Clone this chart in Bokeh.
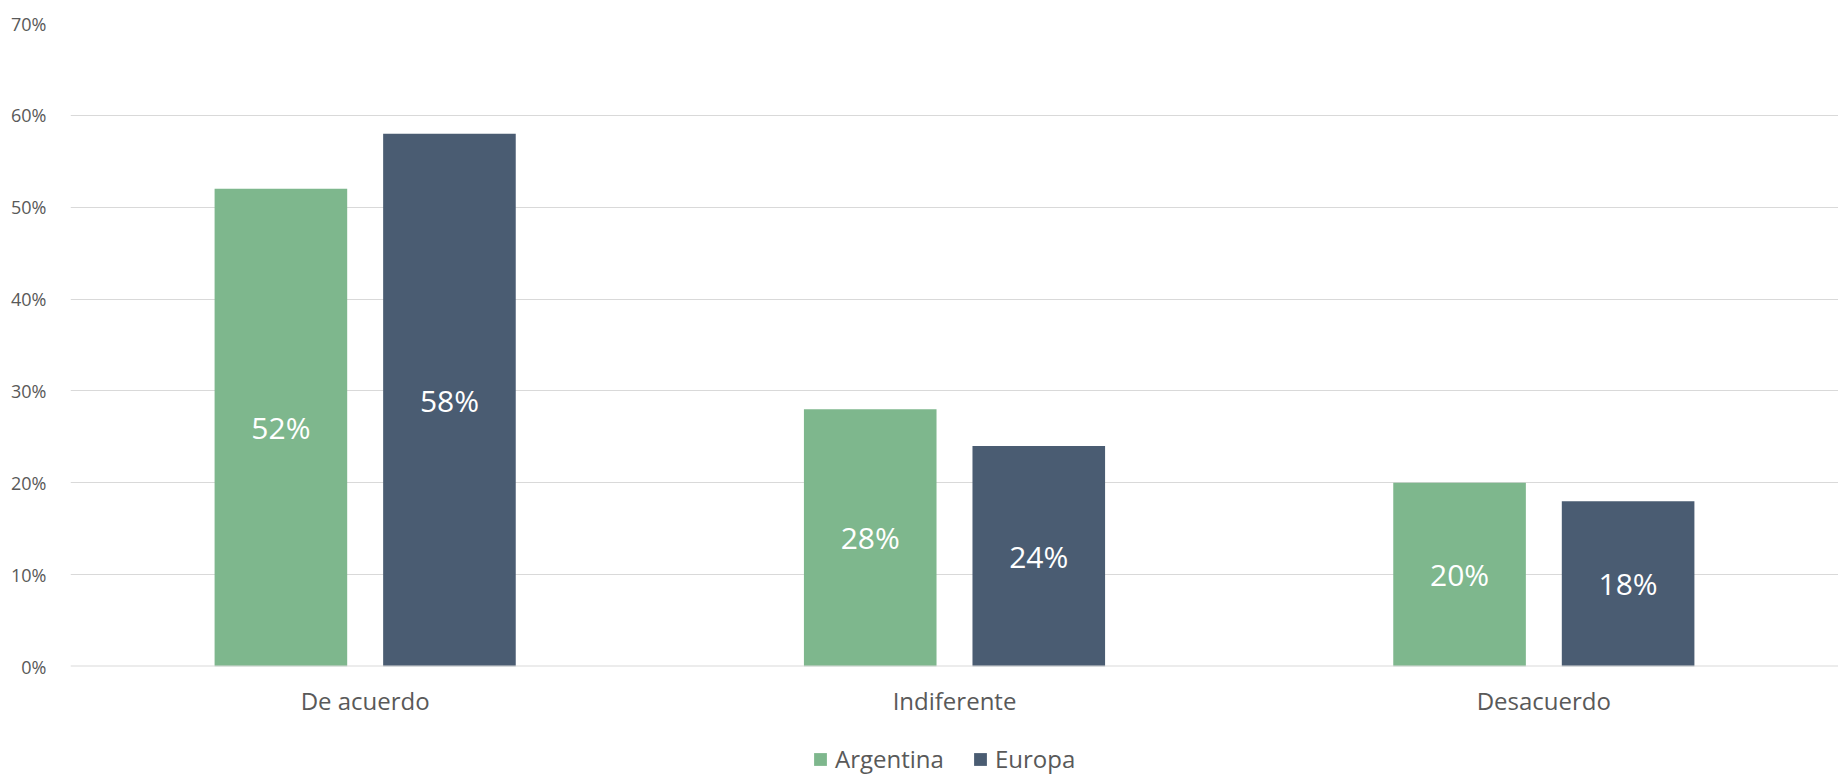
from bokeh.plotting import figure
from bokeh.layouts import column
from bokeh.models import (FactorRange, ColumnDataSource, Legend, LegendItem, Span,
                          SingleIntervalTicker, PrintfTickFormatter, Range1d)
from bokeh.transform import dodge
from bokeh.core.properties import value
from bokeh.embed import file_html
from bokeh.resources import INLINE

# ---- data ----
categories = ["De acuerdo", "Indiferente", "Desacuerdo"]
series_names = ["Argentina", "Europa"]
argentina = [52, 28, 20]
europa = [58, 24, 18]
colors = ["#7EB78D", "#4A5C72"]

FONT = "Open Sans"
GREY = "#595959"

src = ColumnDataSource(dict(
    cat=categories,
    arg=argentina,
    eur=europa,
    arg_mid=[v / 2 for v in argentina],
    eur_mid=[v / 2 for v in europa],
    arg_lbl=[f"{v}%" for v in argentina],
    eur_lbl=[f"{v}%" for v in europa],
))

p = figure(x_range=FactorRange(*categories), y_range=(0, 70),
           width=1838, height=719, output_backend="svg", toolbar_location=None,
           min_border_left=70, min_border_right=0, min_border_top=23,
           min_border_bottom=50)
p.x_range.range_padding = 0
p.outline_line_color = None
p.background_fill_color = "white"

off = 0.143
bw = 0.225
p.vbar(x=dodge("cat", -off, range=p.x_range), top="arg", width=bw,
       source=src, fill_color=colors[0], line_color=None)
p.vbar(x=dodge("cat", off, range=p.x_range), top="eur", width=bw,
       source=src, fill_color=colors[1], line_color=None)

p.text(x=dodge("cat", -off, range=p.x_range), y="arg_mid", text="arg_lbl", source=src,
       text_align="center", text_baseline="middle", text_color="white",
       text_font=value(FONT), text_font_size="30px")
p.text(x=dodge("cat", off, range=p.x_range), y="eur_mid", text="eur_lbl", source=src,
       text_align="center", text_baseline="middle", text_color="white",
       text_font=value(FONT), text_font_size="30px")

# baseline
p.add_layout(Span(location=0, dimension="width", line_color="#D9D9D9", line_width=2))

# grid
p.xgrid.grid_line_color = None
p.ygrid.grid_line_color = "#D9D9D9"
p.ygrid.grid_line_width = 1

# y axis
p.yaxis.ticker = SingleIntervalTicker(interval=10)
p.yaxis.formatter = PrintfTickFormatter(format="%d%%")
p.yaxis.axis_line_color = None
p.yaxis.major_tick_line_color = None
p.yaxis.minor_tick_line_color = None
p.yaxis.major_tick_out = 0
p.yaxis.major_tick_in = 0
p.yaxis.major_label_standoff = 20
p.yaxis.major_label_text_font = FONT
p.yaxis.major_label_text_font_size = "18px"
p.yaxis.major_label_text_color = GREY

# x axis
p.xaxis.axis_line_color = None
p.xaxis.major_tick_line_color = None
p.xaxis.minor_tick_line_color = None
p.xaxis.major_tick_out = 0
p.xaxis.major_tick_in = 0
p.xaxis.major_label_standoff = 17
p.xaxis.major_label_text_font = FONT
p.xaxis.major_label_text_font_size = "24px"
p.xaxis.major_label_text_color = GREY

# ---- legend strip below the chart ----
# degenerate (zero-size) copies of the series feed the legend swatches only
lg = figure(width=1838, height=56, output_backend="svg", toolbar_location=None,
            x_range=FactorRange(*categories), y_range=Range1d(-2, -1),
            x_axis_type=None, y_axis_type=None,
            min_border_left=0, min_border_right=0, min_border_top=0, min_border_bottom=0)
lg.outline_line_color = None
lg.xgrid.grid_line_color = None
lg.ygrid.grid_line_color = None
la = lg.vbar(x="cat", top="arg", bottom="arg", width=0, source=src,
             fill_color=colors[0], line_color=None)
le = lg.vbar(x="cat", top="eur", bottom="eur", width=0, source=src,
             fill_color=colors[1], line_color=None)

legend = Legend(items=[LegendItem(label=series_names[0], renderers=[la]),
                       LegendItem(label=series_names[1], renderers=[le])],
                orientation="horizontal", location=(742, 0),
                glyph_width=16, glyph_height=16, label_standoff=7, spacing=28,
                padding=0, margin=0, border_line_color=None,
                background_fill_alpha=0,
                label_text_font=FONT, label_text_font_size="24px",
                label_text_color=GREY)
lg.add_layout(legend, "center")

layout = column(p, lg, spacing=0)
open("out.html", "w").write(file_html(layout, INLINE))
